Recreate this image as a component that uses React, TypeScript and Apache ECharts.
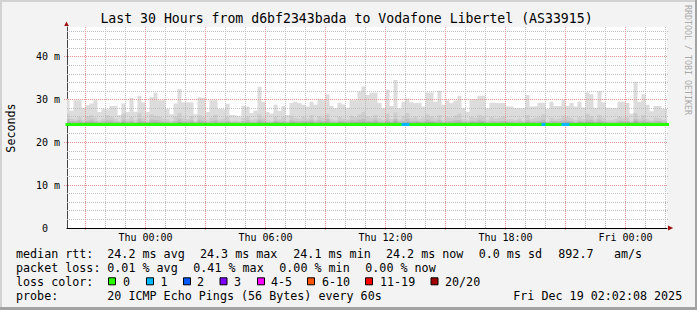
import React, { useEffect, useRef } from 'react';
import * as echarts from 'echarts';

// time axis in hours since Wed 00:00
const START_HOUR = 20.0; // first 12-minute bar starts Wed 20:00
const STEP_HOURS = 0.2; // 12-minute consolidation step
const X_MIN = 20.075; // Wed 20:04:30
const X_MAX = 50.075; // Fri 02:04:30
const Y_MAX = 47;
const SMOKE_FLOOR = 24.0;

// smoke layers (ms) per 12-minute bar
const smokeMax = [
  30.2, 27.4, 29.9, 29.9, 28.1, 28.7, 29.1, 29.9, 27.1, 27.8,
  27.7, 28.5, 28.6, 26.4, 29.1, 27.1, 30.4, 27.2, 30.9, 29.4,
  27.1, 30.6, 31.6, 29.9, 29.9, 27.8, 26.6, 29.1, 32.5, 29.4,
  29.4, 29.4, 26.6, 30.6, 30.4, 27.1, 29.9, 29.9, 27.8, 27.7,
  29.0, 26.4, 26.3, 26.1, 28.6, 28.4, 26.9, 27.5, 33.0, 29.5,
  27.1, 26.8, 28.8, 27.4, 28.5, 26.4, 29.2, 29.5, 29.2, 28.8,
  28.4, 29.5, 28.8, 30.2, 29.9, 31.3, 28.6, 28.0, 29.3, 28.9,
  28.1, 29.9, 30.0, 31.9, 33.1, 31.1, 31.6, 31.7, 29.2, 28.0,
  32.3, 28.5, 34.6, 28.0, 29.5, 30.3, 29.4, 29.2, 29.3, 28.4,
  31.7, 31.7, 29.5, 32.1, 28.8, 29.9, 29.2, 29.8, 30.9, 28.0,
  27.2, 30.1, 30.1, 30.9, 30.9, 28.0, 29.3, 29.2, 29.2, 29.3,
  28.4, 28.4, 28.0, 28.0, 28.0, 31.1, 28.4, 28.5, 29.3, 29.3,
  27.8, 29.5, 28.5, 28.5, 29.9, 28.5, 29.2, 28.4, 29.5, 28.2,
  31.7, 31.3, 28.1, 32.0, 29.4, 28.1, 28.0, 28.1, 29.5, 29.5,
  29.2, 26.8, 34.2, 29.5, 31.3, 28.8, 27.3, 28.5, 28.5, 27.8, 27.8,
];
const smokeMid = [
  26.8, 25.6, 25.4, 25.9, 25.3, 26.2, 26.5, 25.8, 25.2, 25.6,
  26.4, 25.9, 25.5, 25.1, 26.7, 25.4, 26.0, 25.3, 26.9, 25.7,
  25.2, 26.6, 26.3, 26.0, 25.6, 25.4, 25.1, 26.1, 26.9, 25.8,
  25.5, 26.2, 25.0, 26.4, 25.9, 25.3, 25.8, 26.5, 25.4, 25.6,
  26.0, 25.1, 25.2, 25.0, 25.7, 26.1, 25.3, 25.5, 26.6, 25.8,
  25.2, 25.0, 26.1, 25.4, 25.9, 25.1, 26.3, 25.7, 25.5, 26.0,
  25.6, 26.4, 25.3, 26.2, 25.8, 26.7, 25.5, 25.2, 26.0, 25.6,
  25.4, 26.3, 25.9, 26.6, 27.2, 26.1, 25.8, 26.5, 25.6, 25.3,
  26.8, 25.5, 27.0, 25.4, 26.2, 26.9, 25.7, 26.0, 25.5, 25.8,
  26.6, 26.1, 25.6, 26.4, 25.3, 25.9, 25.7, 26.3, 26.8, 25.4,
  25.2, 26.0, 25.7, 26.5, 26.2, 25.3, 25.9, 25.6, 25.8, 26.1,
  25.4, 25.5, 25.3, 25.6, 25.2, 26.4, 25.5, 25.7, 25.9, 26.6,
  25.1, 25.8, 25.4, 25.6, 26.3, 26.0, 25.7, 25.3, 25.9, 25.5,
  26.7, 26.2, 25.4, 26.5, 25.8, 25.3, 25.2, 25.5, 26.0, 25.7,
  25.9, 25.1, 26.9, 25.6, 26.4, 25.5, 25.2, 25.8, 25.6, 25.3, 25.3,
];
const smokeInner = [
  25.4, 25.0, 24.9, 25.2, 24.8, 25.1, 25.3, 25.0, 24.8, 25.0,
  25.2, 25.1, 24.9, 24.8, 25.3, 24.9, 25.1, 24.8, 25.4, 25.0,
  24.8, 25.3, 25.2, 25.1, 24.9, 24.9, 24.7, 25.0, 25.4, 25.0,
  24.9, 25.2, 24.7, 25.3, 25.1, 24.8, 25.0, 25.2, 24.9, 25.0,
  25.1, 24.8, 24.8, 24.7, 25.0, 25.2, 24.8, 24.9, 25.3, 25.1,
  24.8, 24.7, 25.1, 24.9, 25.0, 24.8, 25.2, 25.0, 24.9, 25.1,
  25.0, 25.3, 24.9, 25.2, 25.0, 25.4, 24.9, 24.8, 25.1, 25.0,
  24.9, 25.2, 25.1, 25.3, 25.5, 25.1, 25.0, 25.3, 24.9, 24.8,
  25.3, 24.9, 25.5, 24.9, 25.1, 25.4, 25.0, 25.1, 24.9, 25.0,
  25.3, 25.1, 24.9, 25.2, 24.8, 25.0, 25.0, 25.2, 25.3, 24.9,
  24.8, 25.1, 25.0, 25.3, 25.1, 24.8, 25.0, 24.9, 25.0, 25.1,
  24.9, 24.9, 24.8, 25.0, 24.8, 25.2, 24.9, 25.0, 25.1, 25.3,
  24.8, 25.0, 24.9, 25.0, 25.2, 25.1, 25.0, 24.8, 25.1, 24.9,
  25.3, 25.2, 24.9, 25.3, 25.0, 24.8, 24.8, 24.9, 25.1, 25.0,
  25.1, 24.8, 25.4, 25.0, 25.2, 24.9, 24.8, 25.0, 25.0, 24.8, 24.8,
];
const smokeCore = [
  24.8, 24.6, 24.6, 24.7, 24.5, 24.7, 24.8, 24.6, 24.5, 24.6,
  24.7, 24.6, 24.6, 24.5, 24.8, 24.6, 24.7, 24.5, 24.8, 24.6,
  24.5, 24.7, 24.7, 24.6, 24.6, 24.5, 24.5, 24.6, 24.8, 24.6,
  24.6, 24.7, 24.5, 24.7, 24.6, 24.5, 24.6, 24.7, 24.5, 24.6,
  24.7, 24.5, 24.5, 24.5, 24.6, 24.7, 24.5, 24.6, 24.8, 24.6,
  24.5, 24.5, 24.7, 24.6, 24.6, 24.5, 24.7, 24.6, 24.6, 24.7,
  24.6, 24.8, 24.6, 24.7, 24.6, 24.8, 24.6, 24.5, 24.7, 24.6,
  24.6, 24.7, 24.7, 24.8, 24.9, 24.7, 24.6, 24.8, 24.6, 24.5,
  24.8, 24.6, 24.9, 24.6, 24.7, 24.8, 24.6, 24.7, 24.6, 24.6,
  24.8, 24.7, 24.6, 24.7, 24.5, 24.6, 24.6, 24.7, 24.8, 24.6,
  24.5, 24.7, 24.6, 24.8, 24.7, 24.5, 24.6, 24.6, 24.6, 24.7,
  24.6, 24.6, 24.5, 24.6, 24.5, 24.7, 24.6, 24.6, 24.7, 24.8,
  24.5, 24.6, 24.6, 24.6, 24.7, 24.7, 24.6, 24.5, 24.7, 24.6,
  24.8, 24.7, 24.6, 24.8, 24.6, 24.5, 24.5, 24.6, 24.7, 24.6,
  24.7, 24.5, 24.9, 24.6, 24.7, 24.6, 24.5, 24.6, 24.6, 24.5, 24.5,
];
const medianRtt = [
  24.2, 24.2, 24.2, 24.2, 24.2, 24.2, 24.2, 24.2, 24.2, 24.2,
  24.2, 24.2, 24.2, 24.2, 24.2, 24.2, 24.2, 24.2, 24.2, 24.2,
  24.2, 24.2, 24.2, 24.2, 24.2, 24.2, 24.2, 24.2, 24.2, 24.2,
  24.2, 24.2, 24.2, 24.2, 24.2, 24.2, 24.2, 24.2, 24.2, 24.2,
  24.2, 24.2, 24.2, 24.2, 24.2, 24.2, 24.2, 24.2, 24.2, 24.2,
  24.2, 24.2, 24.2, 24.2, 24.2, 24.2, 24.2, 24.2, 24.2, 24.2,
  24.2, 24.2, 24.2, 24.2, 24.2, 24.2, 24.2, 24.2, 24.2, 24.2,
  24.2, 24.2, 24.2, 24.2, 24.2, 24.2, 24.2, 24.2, 24.2, 24.2,
  24.2, 24.2, 24.2, 24.2, 24.2, 24.2, 24.2, 24.2, 24.2, 24.2,
  24.2, 24.2, 24.2, 24.2, 24.2, 24.2, 24.2, 24.2, 24.2, 24.2,
  24.2, 24.2, 24.2, 24.2, 24.2, 24.2, 24.2, 24.2, 24.2, 24.2,
  24.2, 24.2, 24.2, 24.2, 24.2, 24.2, 24.2, 24.2, 24.2, 24.2,
  24.2, 24.2, 24.2, 24.2, 24.2, 24.2, 24.2, 24.2, 24.2, 24.2,
  24.2, 24.2, 24.2, 24.2, 24.2, 24.2, 24.2, 24.2, 24.2, 24.2,
  24.2, 24.2, 24.2, 24.2, 24.2, 24.2, 24.2, 24.2, 24.2, 24.2, 24.2,
];
// [bar index, lost pings out of 20]
const lossEvents = [[84, 1], [85, 1], [119, 1], [124, 1], [125, 1]];

const xLabelHours = [24, 30, 36, 42, 48];
const xLabelTexts = ['Thu 00:00', 'Thu 06:00', 'Thu 12:00', 'Thu 18:00', 'Fri 00:00'];
const yLabelValues = [0, 10, 20, 30, 40];
const yMajorGrid = [10, 20, 30, 40];
const yMinorGrid = [2, 4, 6, 8, 12, 14, 16, 18, 22, 24, 26, 28, 32, 34, 36, 38, 42, 44, 46];
const xMajorGrid = [21, 24, 27, 30, 33, 36, 39, 42, 45, 48];
const xMinorGrid = [22, 23, 25, 26, 28, 29, 31, 32, 34, 35, 37, 38, 40, 41, 43, 44, 46, 47, 49, 50];

const lossLegendLabels = ['0', '1', '2', '3', '4-5', '6-10', '11-19', '20/20'];
const lossLegendColors = ['#26ff00', '#00b8ff', '#0059ff', '#7e00ff', '#ff00ff', '#ff5500', '#ff0000', '#a10000'];
const lossLegendBoxX = [108, 146, 183, 219.5, 257, 307, 365, 430.5];
const lossLegendTextX = [123, 160.5, 197, 234, 271, 322, 380, 445];

const statsRtt = [
  ['median rtt:', 16], ['24.2 ms avg', 107.3], ['24.3 ms max', 200], ['24.1 ms min', 293.3],
  ['24.2 ms now', 386], ['0.0 ms sd', 478.7], ['892.7', 558.3], ['am/s', 614],
];
const statsLoss = [
  ['packet loss:', 16], ['0.01 % avg', 107.3], ['0.41 % max', 193.3], ['0.00 % min', 279.3], ['0.00 % now', 365.3],
];
const probeRow = [
  ['probe:', 16], ['20 ICMP Echo Pings (56 Bytes) every 60s', 107.3], ['Fri Dec 19 02:02:08 2025', 513.3],
];

const TITLE = 'Last 30 Hours from d6bf2343bada to Vodafone Libertel (AS33915)';
const MONO = '"DejaVu Sans Mono", monospace';
const MAJOR = '#ec9090';
const MINOR = '#bdbdbd';

function lossColor(n: number) {
  if (n <= 0) return lossLegendColors[0];
  if (n === 1) return lossLegendColors[1];
  if (n === 2) return lossLegendColors[2];
  if (n === 3) return lossLegendColors[3];
  if (n <= 5) return lossLegendColors[4];
  if (n <= 10) return lossLegendColors[5];
  if (n <= 19) return lossLegendColors[6];
  return lossLegendColors[7];
}

function toSteps(arr: number[]) {
  const d: any[] = arr.map((v, i) => [START_HOUR + STEP_HOURS * i, v]);
  d.push([START_HOUR + STEP_HOURS * arr.length, arr[arr.length - 1]]);
  return d;
}

function smokeLayer(name: string, arr: number[], color: string, z: number) {
  return {
    type: 'line',
    name,
    step: 'end',
    data: toSteps(arr),
    symbol: 'none',
    showSymbol: false,
    silent: true,
    z,
    lineStyle: { width: 0 },
    areaStyle: { color, opacity: 1, origin: SMOKE_FLOOR },
  };
}

function textEl(text: string, x: number, y: number, size: number, extra: any = {}) {
  return {
    type: 'text',
    x,
    y,
    silent: true,
    ...extra,
    style: {
      text,
      fill: '#000',
      fontSize: size,
      fontFamily: MONO,
      align: 'left',
      verticalAlign: 'middle',
      ...(extra.style || {}),
    },
  };
}

// one custom series draws all grid lines: [orientation 0=h/1=v, value, major 0/1]
function gridRows() {
  const rows: number[][] = [];
  yMinorGrid.forEach((v) => rows.push([0, v, 0]));
  xMinorGrid.forEach((v) => rows.push([1, v, 0]));
  yMajorGrid.forEach((v) => rows.push([0, v, 1]));
  xMajorGrid.forEach((v) => rows.push([1, v, 1]));
  return rows;
}

export default function App() {
  const ref = useRef<HTMLDivElement>(null);
  useEffect(() => {
    document.body.style.margin = '0';
    const chart = echarts.init(ref.current!, null, { renderer: 'svg' });

    const rows = gridRows();
    const gridSeries = {
      type: 'custom',
      name: 'grid',
      data: rows.map((r, i) => [i]),
      dimensions: ['idx'],
      encode: { x: 0 },
      silent: true,
      clip: false,
      z: 4,
      renderItem: (params: any, api: any) => {
        const cs = params.coordSys;
        const r = rows[params.dataIndex];
        const color = r[2] === 1 ? MAJOR : MINOR;
        const style = { stroke: color, lineWidth: 1, lineDash: [1, 1], fill: null };
        if (r[0] === 0) {
          const p = api.coord([X_MIN, r[1]]);
          const y = Math.round(p[1] - 0.5) + 0.5;
          return { type: 'line', shape: { x1: cs.x - (r[2] ? 3 : 0), y1: y, x2: cs.x + cs.width + 1, y2: y }, style };
        }
        const p = api.coord([r[1], 0]);
        const x = Math.round(p[0] - 0.5) + 0.5;
        return { type: 'line', shape: { x1: x, y1: cs.y, x2: x, y2: cs.y + cs.height + (r[2] ? 3 : 1) }, style };
      },
    };

    // loss-colored median segments
    const lossByColor: Record<string, any[]> = {};
    lossEvents.forEach(([i, n]) => {
      const c = lossColor(n);
      if (!lossByColor[c]) lossByColor[c] = [];
      const t0 = START_HOUR + STEP_HOURS * i;
      const t1 = t0 + STEP_HOURS;
      lossByColor[c].push([t0, medianRtt[i]], [t1, medianRtt[i]], [t1, '-']);
    });
    const lossSeries = Object.keys(lossByColor).map((c) => ({
      type: 'line',
      data: lossByColor[c],
      symbol: 'none',
      showSymbol: false,
      silent: true,
      connectNulls: false,
      z: 6,
      lineStyle: { color: c, width: 3, cap: 'butt' },
    }));

    const graphic: any[] = [
      // frame
      { type: 'rect', shape: { x: 0, y: 0, width: 697, height: 2 }, style: { fill: '#d2d2d2' }, silent: true },
      { type: 'rect', shape: { x: 0, y: 0, width: 2, height: 310 }, style: { fill: '#d2d2d2' }, silent: true },
      { type: 'rect', shape: { x: 0, y: 307, width: 697, height: 3 }, style: { fill: '#a2a2a2' }, silent: true },
      { type: 'rect', shape: { x: 695, y: 0, width: 2, height: 310 }, style: { fill: '#a2a2a2' }, silent: true },
      // title
      textEl(TITLE, 346.5, 18.5, 13.2, { style: { align: 'center' } }),
      // y axis name
      textEl('Seconds', 10.5, 128, 11.7, { rotation: Math.PI / 2, style: { align: 'center' } }),
      // watermark
      textEl('RRDTOOL / TOBI OETIKER', 687.5, 60, 8.3, { rotation: -Math.PI / 2, style: { align: 'center', fill: '#a9a9a9' } }),
      // axis arrows
      { type: 'polygon', shape: { points: [[64.2, 26], [68.8, 26], [66.5, 21.4]] }, style: { fill: '#a01010' }, silent: true, z: 10 },
      { type: 'polygon', shape: { points: [[668, 225.6], [668, 230.6], [673.2, 228.1]] }, style: { fill: '#a01010' }, silent: true, z: 10 },
    ];
    const ROW1 = 254, ROW2 = 268.3, ROW3 = 282.3, ROW4 = 296.3;
    const LEG = 11.7;
    statsRtt.forEach(([t, x]) => graphic.push(textEl(t as string, x as number, ROW1, LEG)));
    statsLoss.forEach(([t, x]) => graphic.push(textEl(t as string, x as number, ROW2, LEG)));
    graphic.push(textEl('loss color:', 16, ROW3, LEG));
    lossLegendLabels.forEach((lab, i) => {
      graphic.push({
        type: 'rect',
        shape: { x: lossLegendBoxX[i] + 0.5, y: ROW3 - 4.5, width: 7, height: 7 },
        style: { fill: lossLegendColors[i], stroke: '#000', lineWidth: 1 },
        silent: true,
      });
      graphic.push(textEl(lab, lossLegendTextX[i], ROW3, LEG));
    });
    probeRow.forEach(([t, x]) => graphic.push(textEl(t as string, x as number, ROW4, LEG)));

    chart.setOption({
      animation: false,
      backgroundColor: '#f3f3f3',
      grid: { left: 67, right: 30, top: 27, bottom: 82, show: true, backgroundColor: '#ffffff', borderWidth: 0 },
      xAxis: {
        type: 'value',
        min: X_MIN,
        max: X_MAX,
        axisLine: { show: true, onZero: false, lineStyle: { color: '#000', width: 1 } },
        axisTick: { show: false },
        axisLabel: {
          customValues: xLabelHours,
          formatter: (v: number) => {
            const i = xLabelHours.findIndex((h) => Math.abs(h - v) < 1e-6);
            return i >= 0 ? xLabelTexts[i] : '';
          },
          color: '#000',
          fontFamily: MONO,
          fontSize: 10,
          margin: 4,
        },
        splitLine: { show: false },
      },
      yAxis: {
        type: 'value',
        min: 0,
        max: Y_MAX,
        interval: 10,
        axisLine: { show: true, onZero: false, lineStyle: { color: '#454545', width: 1 } },
        axisTick: { show: false },
        axisLabel: {
          customValues: yLabelValues,
          formatter: (v: number) => (v === 0 ? '{z|0}' : `${v} m`),
          color: '#000',
          fontFamily: MONO,
          fontSize: 10,
          margin: 7,
          rich: { z: { padding: [0, 12, 0, 0], color: '#000', fontFamily: MONO, fontSize: 10 } },
        },
        splitLine: { show: false },
      },
      series: [
        smokeLayer('max', smokeMax, '#dcdcdc', 2),
        smokeLayer('mid', smokeMid, '#cdcdcd', 2),
        smokeLayer('inner', smokeInner, '#bbbbbb', 2),
        smokeLayer('core', smokeCore, '#a5a5a5', 2),
        gridSeries,
        {
          type: 'line',
          name: 'median',
          step: 'end',
          data: toSteps(medianRtt),
          symbol: 'none',
          showSymbol: false,
          silent: true,
          z: 5,
          lineStyle: { color: lossLegendColors[0], width: 3 },
        },
        ...lossSeries,
      ],
      graphic,
    });
    return () => chart.dispose();
  }, []);
  return <div ref={ref} style={{ position: 'absolute', left: 0, top: 0, width: 697, height: 310 }} />;
}
